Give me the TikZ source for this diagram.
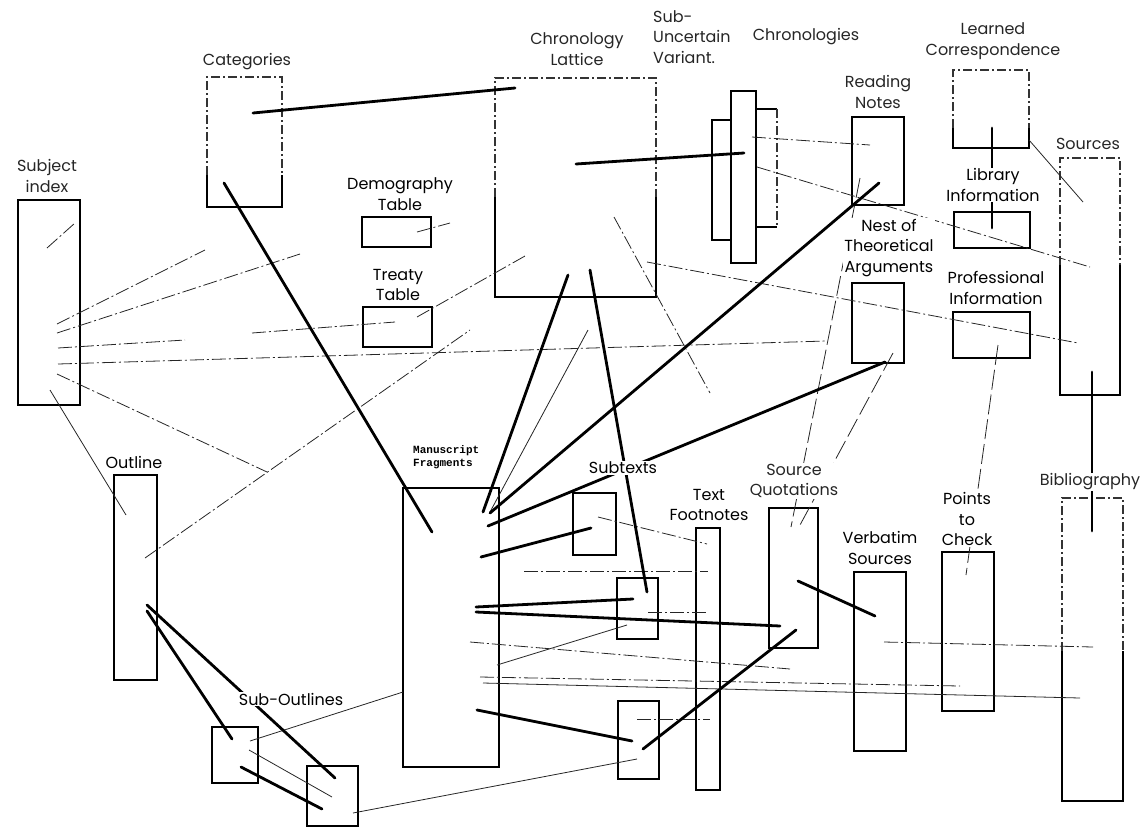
\documentclass[tikz,border=0pt]{standalone}
\usepackage{fontspec}
\setmainfont{Poppins}
\newfontfamily\msfont{Liberation Mono}
\newcommand\labfont{\fontsize{16}{20.5}\selectfont}
\newcommand\partbox[2]{%
  \draw[bxd] ([yshift=#2]#1.south west) |- (#1.north east) -- ([yshift=#2]#1.south east);
  \draw[bxs] ([yshift=#2]#1.south west) -- (#1.south west) -- (#1.south east) -- ([yshift=#2]#1.south east);}
\tikzset{
  bx/.style={draw, line width=1.3pt, inner sep=0pt, outer sep=0pt, anchor=north west},
  bxn/.style={draw=none, inner sep=0pt, outer sep=0pt, anchor=north west},
  bxs/.style={line width=1.3pt},
  bxd/.style={line width=1.1pt, black!80, dash pattern=on 9pt off 3pt on 2pt off 3pt},
  heavy/.style={line width=2.8pt, line cap=round},
  ddot/.style={line width=0.8pt, black!85, dash pattern=on 14pt off 3pt on 2pt off 3pt},
  ldash/.style={line width=0.8pt, black!85, dash pattern=on 20pt off 5pt},
  fine/.style={line width=0.8pt, black!85},
  lab/.style={font=\labfont, align=center, fill=white, inner sep=1pt},
  lt/.style={text=black!85},
  mslab/.style={font=\msfont\bfseries\fontsize{11}{13.5}\selectfont, align=left, anchor=west, inner sep=0pt}
}
\begin{document}
\begin{tikzpicture}[x=1pt,y=-1pt]
\useasboundingbox (0,0) rectangle (1144,828);
% ---------- boxes ----------
\node[bx, minimum width=62pt, minimum height=205pt] (subj) at (18,200) {};
\node[bxn, minimum width=75pt, minimum height=130pt] (cat) at (207,77) {};
\node[bx, minimum width=69pt, minimum height=30pt] (demo) at (362,217) {};
\node[bx, minimum width=69pt, minimum height=40pt] (treaty) at (363,307) {};
\node[bxn, minimum width=161pt, minimum height=219pt] (lattice) at (495,78) {};
\node[bx, minimum width=33pt, minimum height=120pt] (chrA) at (712,120) {};
\node[bx, fill=white, minimum width=25pt, minimum height=172pt] (chrB) at (731,91) {};
\node[bxn, minimum width=21pt, minimum height=118pt] (chrC) at (756,109) {};
\draw[bxs] (chrC.north east) -- (chrC.north west) -- (chrC.south west) -- (chrC.south east);
\draw[bxd] (chrC.north east) -- (chrC.south east);
\node[bx, minimum width=52pt, minimum height=88pt] (read) at (852,117) {};
\node[bxn, minimum width=76pt, minimum height=78pt] (learn) at (953,70) {};
\node[bx, minimum width=76pt, minimum height=36pt] (lib) at (954,212) {};
\node[bxn, minimum width=60pt, minimum height=237pt] (src) at (1060,158) {};
\node[bx, minimum width=52pt, minimum height=80pt] (nest) at (852,283) {};
\node[bx, minimum width=77pt, minimum height=46pt] (prof) at (953,312) {};
\node[bx, minimum width=43pt, minimum height=205pt] (outl) at (114,475) {};
\node[bx, minimum width=46pt, minimum height=56pt] (subA) at (212,727) {};
\node[bx, minimum width=51pt, minimum height=60pt] (subB) at (307,766) {};
\node[bx, minimum width=96pt, minimum height=279pt] (ms) at (403,488) {};
\node[bx, minimum width=43pt, minimum height=62pt] (stA) at (573,493) {};
\node[bx, minimum width=41pt, minimum height=61pt] (stB) at (617,578) {};
\node[bx, minimum width=41pt, minimum height=78pt] (stC) at (618,701) {};
\node[bx, minimum width=24pt, minimum height=262pt] (foot) at (696,528) {};
\node[bx, minimum width=49pt, minimum height=140pt] (quot) at (769,508) {};
\node[bx, minimum width=52pt, minimum height=179pt] (verb) at (854,572) {};
\node[bx, minimum width=52pt, minimum height=159pt] (check) at (942,552) {};
\node[bxn, minimum width=61pt, minimum height=303pt] (bib) at (1062,498) {};
\partbox{cat}{32pt}
\partbox{lattice}{100pt}
\partbox{learn}{20pt}
\partbox{src}{130pt}
\partbox{bib}{150pt}
% ---------- connector end points ----------
\coordinate (k1a) at (253,113);  \coordinate (k1b) at (515,88);
\coordinate (k2a) at (576,164);  \coordinate (k2b) at (744,153);
\coordinate (k3a) at (224,183);  \coordinate (k3b) at (432,532);
\coordinate (k4a) at (568,275);  \coordinate (k4b) at (483,512);
\coordinate (k5a) at (590,270);  \coordinate (k5b) at (647,592);
\coordinate (k6a) at (879,183);  \coordinate (k6b) at (490,513);
\coordinate (k7a) at (885,362);  \coordinate (k7b) at (488,526);
\coordinate (k8a) at (481,557);  \coordinate (k8b) at (591,528);
\coordinate (k9a) at (476,607);  \coordinate (k9b) at (633,599);
\coordinate (k10a) at (476,612); \coordinate (k10b) at (780,626);
\coordinate (k11a) at (477,710); \coordinate (k11b) at (632,741);
\coordinate (k12a) at (643,749); \coordinate (k12b) at (796,630);
\coordinate (k13a) at (798,581); \coordinate (k13b) at (875,616);
\coordinate (k14a) at (147,605); \coordinate (k14b) at (335,778);
\coordinate (k15a) at (147,611); \coordinate (k15b) at (232,739);
\coordinate (k16a) at (241,767); \coordinate (k16b) at (322,809);
\coordinate (k17a) at (1092,372); \coordinate (k17b) at (1092,531);
\coordinate (k18a) at (992,128); \coordinate (k18b) at (992,228);
% thin
\coordinate (t1a) at (57,324);  \coordinate (t1b) at (205,250);
\coordinate (t2a) at (57,333);  \coordinate (t2b) at (300,254);
\coordinate (t3a) at (58,348);  \coordinate (t3b) at (185,340);
\coordinate (t4a) at (58,364);  \coordinate (t4b) at (826,341);
\coordinate (t5a) at (57,374);  \coordinate (t5b) at (267,472);
\coordinate (t6a) at (50,390);  \coordinate (t6b) at (126,515);
\coordinate (t7a) at (47,248);  \coordinate (t7b) at (75,223);
\coordinate (t8a) at (252,333); \coordinate (t8b) at (395,322);
\coordinate (t9a) at (417,317); \coordinate (t9b) at (525,256);
\coordinate (t10a) at (145,558); \coordinate (t10b) at (470,330);
\coordinate (t11a) at (417,232); \coordinate (t11b) at (450,223);
\coordinate (t12a) at (614,217); \coordinate (t12b) at (710,393);
\coordinate (t13a) at (647,262); \coordinate (t13b) at (1078,343);
\coordinate (t14a) at (757,167); \coordinate (t14b) at (1090,267);
\coordinate (t15a) at (752,137); \coordinate (t15b) at (870,145);
\coordinate (t16a) at (860,178); \coordinate (t16b) at (791,527);
\coordinate (t17a) at (893,353); \coordinate (t17b) at (800,525);
\coordinate (t18a) at (998,345); \coordinate (t18b) at (966,575);
\coordinate (t19a) at (1029,140); \coordinate (t19b) at (1083,202);
\coordinate (t20a) at (598,517); \coordinate (t20b) at (707,544);
\coordinate (t21a) at (524,571); \coordinate (t21b) at (708,571);
\coordinate (t22a) at (648,612); \coordinate (t22b) at (708,612);
\coordinate (t23a) at (637,719); \coordinate (t23b) at (710,719);
\coordinate (t24a) at (497,665); \coordinate (t24b) at (627,625);
\coordinate (t25a) at (470,642); \coordinate (t25b) at (790,669);
\coordinate (t26a) at (480,677); \coordinate (t26b) at (960,686);
\coordinate (t27a) at (483,683); \coordinate (t27b) at (1080,698);
\coordinate (t28a) at (884,642); \coordinate (t28b) at (1093,647);
\coordinate (t29a) at (250,741); \coordinate (t29b) at (403,692);
\coordinate (t30a) at (249,750); \coordinate (t30b) at (332,797);
\coordinate (t31a) at (353,813); \coordinate (t31b) at (637,759);
\coordinate (t32a) at (490,512); \coordinate (t32b) at (588,330);
% ---------- thin connectors ----------
\foreach \t in {1,2,3,4,5,7,8,9,10,11,12,13,14,15,20,21,22,23,25,26,28}
  \draw[ddot] (t\t a) -- (t\t b);
\foreach \t in {16,17,18}
  \draw[ldash] (t\t a) -- (t\t b);
\foreach \t in {6,19,24,27,29,30,31,32}
  \draw[fine] (t\t a) -- (t\t b);
% ---------- heavy connectors ----------
\foreach \k in {1,...,18}
  \draw[heavy] (k\k a) -- (k\k b);
% ---------- labels ----------
\node[lab, lt] (Lsubj) at (47,176) {Subject\\index};
\node[lab, lt] (Lcat) at (247,62) {Categories};
\node[lab] (Ldemo) at (400,194) {Demography\\Table};
\node[lab] (Ltreaty) at (398,285) {Treaty\\Table};
\node[lab, lt] (Llat) at (577,49) {Chronology\\Lattice};
\node[lab, lt, align=left, anchor=west] (Lsub) at (652,37) {Sub-\\Uncertain\\Variant.};
\node[lab, lt] (Lchr) at (806,37) {Chronologies};
\node[lab, lt] (Lread) at (878,92) {Reading\\Notes};
\node[lab, lt] (Llearn) at (993,41) {Learned\\Correspondence};
\node[lab] (Llib) at (993,185) {Library\\Information};
\node[lab, lt] (Lsrc) at (1088,144) {Sources};
\node[lab] (Lnest) at (889,248) {Nest of\\Theoretical\\Arguments};
\node[lab] (Lprof) at (996,288) {Professional\\Information};
\node[lab] (Loutl) at (134,462) {Outline};
\node[lab] (Lsubo) at (291,699) {Sub-Outlines};
\node[mslab] (Lms) at (413,457) {Manuscript\\Fragments};
\node[lab] (Lst) at (623,468) {Subtexts};
\node[lab] (Lfoot) at (709,505) {Text\\Footnotes};
\node[lab, lt] (Lquot) at (794,481) {Source\\Quotations};
\node[lab] (Lverb) at (880,548) {Verbatim\\Sources};
\node[lab] (Lcheck) at (967,519) {Points\\to\\Check};
\node[lab, lt] (Lbib) at (1090,482) {Bibliography};
\end{tikzpicture}
\end{document}
